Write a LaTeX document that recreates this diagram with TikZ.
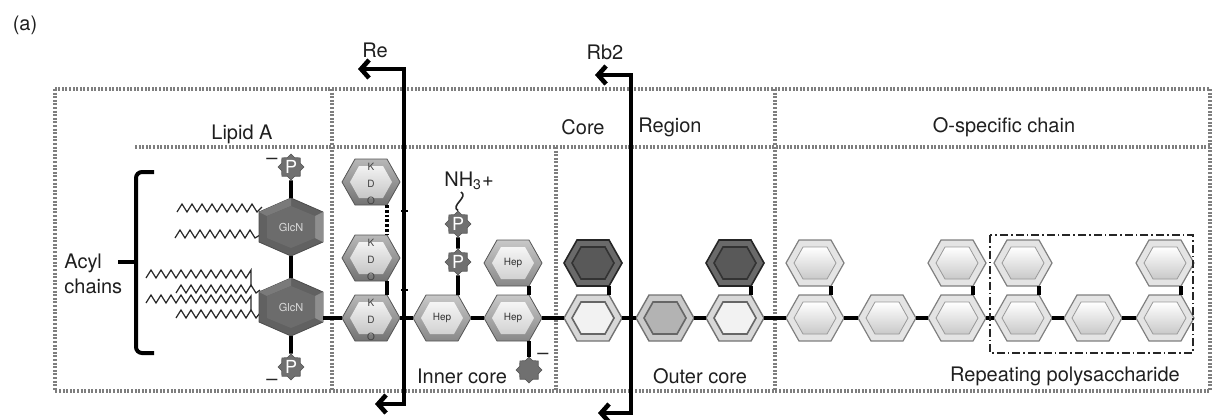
\documentclass[tikz,border=0pt]{standalone}
\usepackage{fontspec}
\setmainfont{TeX Gyre Heros}
\usetikzlibrary{shapes.geometric,arrows.meta}
\definecolor{framegray}{HTML}{7E7E7E}
\definecolor{edgegray}{HTML}{555555}
\definecolor{glcnout}{HTML}{616161}
\definecolor{glcnin}{HTML}{6C6C6C}
\definecolor{glcnfa}{HTML}{8E8E8E}
\definecolor{glcnfb}{HTML}{7A7A7A}
\definecolor{kdoA}{HTML}{B8B8B8}
\definecolor{kdoB}{HTML}{727272}
\definecolor{kdoinA}{HTML}{F2F2F2}
\definecolor{kdoinB}{HTML}{C6C6C6}
\definecolor{hepA}{HTML}{C8C8C8}
\definecolor{hepB}{HTML}{888888}
\definecolor{hepinA}{HTML}{F5F5F5}
\definecolor{hepinB}{HTML}{D2D2D2}
\definecolor{darkout}{HTML}{6A6A6A}
\definecolor{darkin}{HTML}{595959}
\definecolor{lightout}{HTML}{D8D8D8}
\definecolor{lightin}{HTML}{F2F2F2}
\definecolor{midout}{HTML}{CACACA}
\definecolor{midin}{HTML}{B3B3B3}
\definecolor{ochout}{HTML}{E4E4E4}
\definecolor{ochinB}{HTML}{C9C9C9}
\definecolor{starfill}{HTML}{707070}
\tikzset{
  frameline/.style={draw=framegray, line width=1.6pt, dash pattern=on 1pt off 0.8pt},
  bond/.style={draw=black, line width=1.8pt},
  kdolink/.style={draw=black, line width=1.9pt, dash pattern=on 1.4pt off 1pt},
  cutarrow/.style={draw=black, line width=2.3pt, {Straight Barb[length=4pt,width=9pt]}-{Straight Barb[length=4pt,width=9pt]}},
  acyl/.style={draw=black!85, line width=0.6pt},
  brace/.style={draw=black, line width=2pt, rounded corners=3pt},
  lbl/.style={font=\fontsize{10}{12.5}\selectfont, text=black!88, inner sep=0pt},
  minus/.style={font=\fontsize{10}{12}\selectfont, text=black!85, inner sep=0pt},
  repeatbox/.style={draw=black!85, line width=0.7pt, dash pattern=on 4pt off 1.5pt on 0.8pt off 1.5pt},
  pstar/.style={star, star points=8, star point ratio=1.3, minimum size=13pt, inner sep=0pt,
    fill=starfill, draw=edgegray, line width=0.3pt, text=white, font=\fontsize{9}{9}\selectfont},
  kdo outer/.style={top color=kdoA, bottom color=kdoB, draw=edgegray, line width=0.4pt},
  kdo inner/.style={top color=kdoinA, bottom color=kdoinB},
  kdo text/.style={font=\fontsize{5}{8.5}\selectfont, align=center, text=black!75, inner sep=0pt, yshift=-0.8pt},
  hep outer/.style={top color=hepA, bottom color=hepB, draw=edgegray, line width=0.4pt},
  hep inner/.style={top color=hepinA, bottom color=hepinB},
  hep text/.style={font=\fontsize{5}{6}\selectfont, text=black!80, inner sep=0pt},
  dark outer/.style={fill=darkout, draw=black!85, line width=0.8pt},
  dark inner/.style={fill=darkin, draw=black!80, line width=0.8pt},
  dark text/.style={inner sep=0pt},
  light outer/.style={fill=lightout, draw=black!55, line width=0.7pt},
  light inner/.style={fill=lightin, draw=black!60, line width=0.8pt},
  light text/.style={inner sep=0pt},
  mid outer/.style={fill=midout, draw=black!55, line width=0.7pt},
  mid inner/.style={fill=midin, draw=black!60, line width=0.8pt},
  mid text/.style={inner sep=0pt},
  och outer/.style={fill=ochout, draw=black!50, line width=0.6pt},
  och inner/.style={top color=white, bottom color=ochinB, draw=black!40, line width=0.4pt},
  och text/.style={inner sep=0pt},
  glcn outer/.style={fill=glcnout, draw=black!70, line width=0.4pt},
  glcn inner/.style={fill=glcnin},
  glcn text/.style={font=\fontsize{5.5}{6}\selectfont, text=white!85!black, inner sep=0pt}
}
\newcommand\lpsSugar[5]{%
  \begin{scope}[shift={(#2,#3)}]
    \path[#4 outer] (-29,0) -- (-16,-23) -- (16,-23) -- (29,0) -- (16,23) -- (-16,23) -- cycle;
    \path[#4 inner] (-21,0) -- (-12,-16) -- (12,-16) -- (21,0) -- (12,16) -- (-12,16) -- cycle;
    \node[#4 text] (#1) at (0,0) {#5};
    \coordinate (#1-ne) at (16,-23);
    \coordinate (#1-se) at (16,23);
    \coordinate (#1-e) at (29,0);
    \coordinate (#1-w) at (-29,0);
  \end{scope}}
\newcommand\lpsGlcN[3]{%
  \begin{scope}[shift={(#2,#3)}]
    \path[glcn outer] (0,-29) -- (32,-15) -- (32,15) -- (0,29) -- (-32,15) -- (-32,-15) -- cycle;
    \fill[glcnfb] (0,-29) -- (-32,-15) -- (-24,-11) -- (0,-21) -- cycle;
    \fill[glcnfa] (32,-15) -- (32,15) -- (24,11) -- (24,-11) -- cycle;
    \path[glcn inner] (0,-21) -- (24,-11) -- (24,11) -- (0,21) -- (-24,11) -- (-24,-11) -- cycle;
    \node[glcn text] (#1) at (0,0) {GlcN};
    \coordinate (#1-n) at (0,-29);
    \coordinate (#1-s) at (0,29);
    \coordinate (#1-e) at (32,11);
  \end{scope}}
\newcommand\lpsZig[4]{\draw[acyl] (#1,#2) \foreach \k in {1,...,#3}{ -- ++(5,-8) -- ++(5,8)} #4;}
\begin{document}
\begin{tikzpicture}[x=0.5pt,y=-0.5pt]
\useasboundingbox (0,0) rectangle (1213,419);
% frame
\draw[frameline] (55,89) rectangle (1210,391);
\draw[frameline] (135,147) -- (1210,147);
\draw[frameline] (332,89) -- (332,391);
\draw[frameline] (775,89) -- (775,391);
\draw[frameline] (556,147) -- (556,391);
% labels
\node[lbl] (tA) at (25,25) {(a)};
\node[lbl] (tLipid) at (242,134) {Lipid A};
\node[lbl] (tCore) at (583,127) {Core};
\node[lbl] (tRegion) at (670,127) {Region};
\node[lbl] (tOspec) at (1004,127) {O-specific chain};
\node[lbl] (tInner) at (462,376) {Inner core};
\node[lbl] (tOuter) at (700,376) {Outer core};
\node[lbl] (tRepeat) at (1065,376) {Repeating polysaccharide};
\node[lbl, align=left, anchor=west] (tAcyl) at (64,274) {Acyl\\chains};
\node[lbl] (tRe) at (375,50) {Re};
\node[lbl] (tRb) at (605,52) {Rb2};
% acyl chains
\lpsZig{177}{212}{8}{-- (262,207)}
\lpsZig{175}{238}{8}{-- (260,235)}
\lpsZig{146}{278}{10}{-- (251,270) -- (251,287)}
\lpsZig{176}{293}{8}{-- (260,290)}
\lpsZig{146}{303}{10}{-- (251,296) -- (251,311)}
\lpsZig{176}{318}{8}{-- (260,313)}
% bracket
\draw[brace] (154,172) -- (136,172) -- (136,353) -- (154,353);
\coordinate (brTip) at (136,262);
\coordinate (brStub) at (118,262);
\draw[brace] (brStub) -- (brTip);
% GlcN
\lpsGlcN{glcnU}{291}{227}
\lpsGlcN{glcnL}{291}{307}
% KDO
\lpsSugar{kdo1}{371}{182}{kdo}{K\\D\\O}
\lpsSugar{kdo2}{371}{258}{kdo}{K\\D\\O}
\lpsSugar{kdo3}{371}{318}{kdo}{K\\D\\O}
% Hep
\lpsSugar{hep1}{442}{318}{hep}{Hep}
\lpsSugar{hep2}{513}{318}{hep}{Hep}
\lpsSugar{hep3}{513}{263}{hep}{Hep}
% outer core
\lpsSugar{c1t}{593}{263}{dark}{}
\lpsSugar{c1b}{593}{318}{light}{}
\lpsSugar{c2}{665}{318}{mid}{}
\lpsSugar{c3b}{735}{318}{light}{}
\lpsSugar{c3t}{735}{263}{dark}{}
% O-chain
\lpsSugar{o1}{815}{318}{och}{}
\lpsSugar{o2}{887}{318}{och}{}
\lpsSugar{o3}{957}{318}{och}{}
\lpsSugar{o4}{1023}{318}{och}{}
\lpsSugar{o5}{1093}{318}{och}{}
\lpsSugar{o6}{1165}{318}{och}{}
\lpsSugar{u1}{815}{263}{och}{}
\lpsSugar{u3}{957}{263}{och}{}
\lpsSugar{u4}{1023}{263}{och}{}
\lpsSugar{u6}{1165}{263}{och}{}
% phosphates
\node[pstar] (p1) at (291,167) {P};
\node[pstar] (p2) at (291,367) {P};
\node[pstar] (p3) at (458,224) {P};
\node[pstar] (p4) at (458,262) {P};
\node[pstar] (s5) at (529,370) {};
\node[minus] (m1) at (272,161) {–};
\node[minus] (m2) at (272,382) {–};
\node[minus] (m3) at (543,356) {–};
\node[lbl] (nh3) at (469,181) {NH\textsubscript{3}+};
\coordinate (nhfoot) at (461,192);
% bonds
\draw[bond] (glcnU-s) -- (glcnL-n);
\draw[bond] (glcnU-n) -- (p1);
\draw[bond] (glcnL-s) -- (p2);
\draw[bond] (glcnL-e) -- (kdo3-w);
\draw[kdolink] (kdo1-se) -- (kdo2-ne);
\draw[bond] (kdo2-se) -- (kdo3-ne);
\draw[bond] (kdo3-e) -- (hep1-w);
\draw[bond] (hep1-e) -- (hep2-w);
\draw[bond] (hep2-e) -- (c1b-w);
\draw[bond] (c1b-e) -- (c2-w);
\draw[bond] (c2-e) -- (c3b-w);
\draw[bond] (c3b-e) -- (o1-w);
\draw[bond] (o1-e) -- (o2-w);
\draw[bond] (o2-e) -- (o3-w);
\draw[bond] (o3-e) -- (o4-w);
\draw[bond] (o4-e) -- (o5-w);
\draw[bond] (o5-e) -- (o6-w);
\draw[bond] (hep3-se) -- (hep2-ne);
\draw[bond] (c1t-se) -- (c1b-ne);
\draw[bond] (c3t-se) -- (c3b-ne);
\draw[bond] (u1-se) -- (o1-ne);
\draw[bond] (u3-se) -- (o3-ne);
\draw[bond] (u4-se) -- (o4-ne);
\draw[bond] (u6-se) -- (o6-ne);
\draw[bond] (hep1-ne) -- (p4);
\draw[bond] (p4) -- (p3);
\draw[bond] (hep2-se) -- (s5);
\draw[acyl, line width=0.8pt] (p3.north) .. controls +(-8,-5) and +(8,5) .. (nhfoot);
% repeating unit box
\draw[repeatbox] (990,235) rectangle (1193,353);
% cut arrows
\coordinate (reTop) at (404,69);
\coordinate (reTip) at (358,69);
\coordinate (reBot) at (375,404);
\draw[cutarrow] (reBot) -| (reTop) -- (reTip);
\draw[black, line width=0.8pt] (401,211) -- (408,211) (401,290) -- (408,290);
\coordinate (rbTop) at (631,75);
\coordinate (rbTip) at (595,75);
\coordinate (rbBot) at (598,413);
\draw[cutarrow] (rbBot) -| (rbTop) -- (rbTip);
\end{tikzpicture}
\end{document}
